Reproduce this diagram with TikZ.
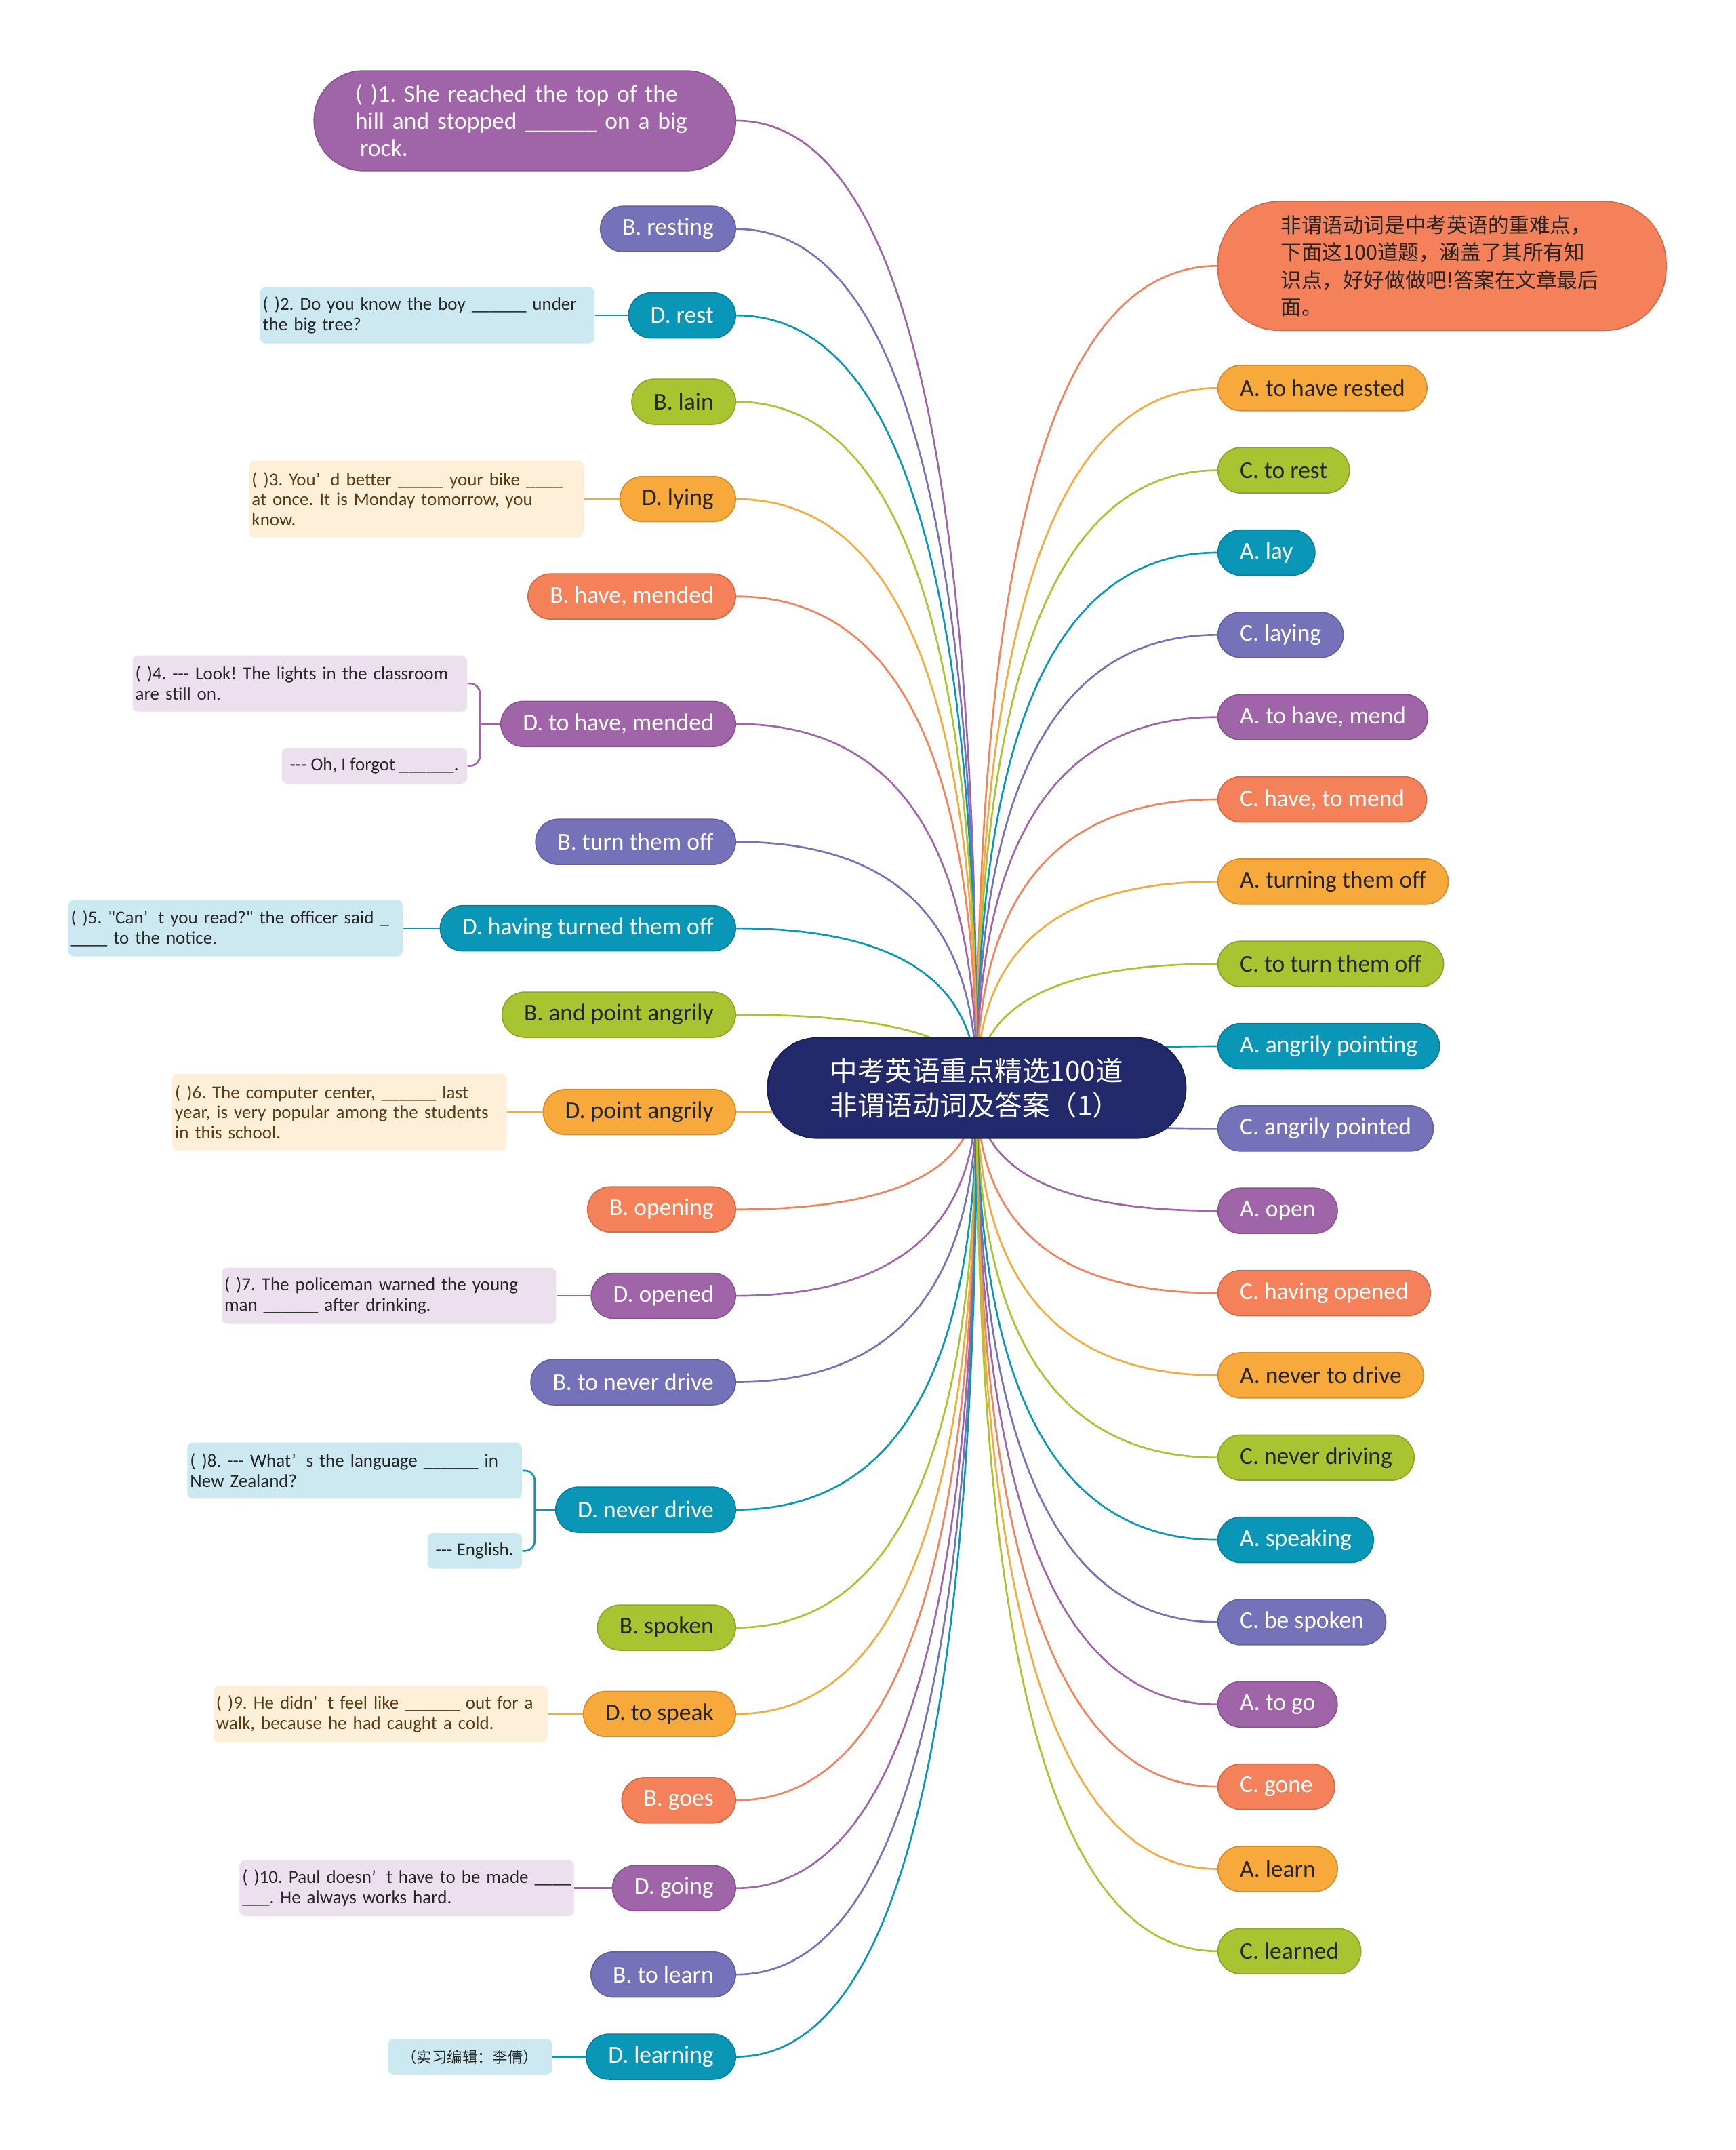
\documentclass[tikz,border=0pt]{standalone}
\usepackage{fontspec}
\setmainfont{Carlito}[Ligatures=TeXOff]
\newfontfamily\cjk{Noto Sans CJK SC}
\usetikzlibrary{calc}
\frenchspacing

\pgfdeclarelayer{paper}
\pgfdeclarelayer{lines}
\pgfsetlayers{paper,lines,main}

\definecolor{cPurple}{HTML}{A065A8}
\definecolor{cViolet}{HTML}{7572BA}
\definecolor{cTeal}{HTML}{0A97B7}
\definecolor{cGreen}{HTML}{A8C430}
\definecolor{cOrange}{HTML}{F8A93C}
\definecolor{cCoral}{HTML}{F5815A}
\definecolor{cNavy}{HTML}{222A6B}
\definecolor{cBlueBox}{HTML}{CCE9F2}
\definecolor{cPeachBox}{HTML}{FEF0D8}
\definecolor{cLilacBox}{HTML}{ECE0EE}
\definecolor{cInk}{HTML}{262626}
\definecolor{cBrown}{HTML}{5B3A12}

\newcommand{\ap}{’\hspace{0.55em}}
\newcommand{\dashes}{\mbox{-}\mbox{-}\mbox{-}}
\newcommand{\six}{\_\_\_\_\_\_}
% curved branch from the centre to one answer
\newcommand{\branch}[3]{%
  \draw[link,#3] (root.center) .. controls ($(root.center)!0.67!(root.center |- #1.#2)$)
    and ($(#1.#2)!0.67!(root.center |- #1.#2)$) .. (#1.#2);}

\begin{document}
\begin{tikzpicture}[x=0.02cm, y=-0.02cm,
  ans/.style={rectangle, rounded corners=0.33cm, minimum height=0.66cm,
    inner xsep=0.32cm, inner ysep=0pt, line width=0.5pt,
    font=\fontsize{10}{12}\selectfont},
  ansPurple/.style={ans, fill=cPurple, draw=cPurple!85!black, text=white},
  ansViolet/.style={ans, fill=cViolet, draw=cViolet!85!black, text=white},
  ansTeal/.style={ans, fill=cTeal, draw=cTeal!85!black, text=white},
  ansCoral/.style={ans, fill=cCoral, draw=cCoral!85!black, text=white},
  ansGreen/.style={ans, fill=cGreen, draw=cGreen!85!black, text=cInk},
  ansOrange/.style={ans, fill=cOrange, draw=cOrange!85!black, text=cInk},
  bigPurple/.style={ansPurple, rounded corners=0.72cm, minimum height=1.46cm,
    inner xsep=0.6cm, text width=4.95cm, align=left,
    font=\fontsize{10}{11.3}\selectfont},
  noteCoral/.style={rectangle, fill=cCoral, draw=cCoral!85!black, line width=0.5pt,
    rounded corners=0.9cm, minimum height=1.88cm, inner xsep=0.92cm,
    text width=4.7cm, align=left, text=cInk,
    font=\cjk\fontsize{8.6}{11.3}\selectfont},
  rootnode/.style={rectangle, fill=cNavy, draw=cNavy!80!black, line width=0.6pt,
    rounded corners=0.72cm, minimum width=6.1cm, minimum height=1.46cm,
    align=left, text=white, font=\cjk\fontsize{11.4}{14.2}\selectfont},
  qbox/.style={rectangle, rounded corners=0.08cm, inner xsep=0.12cm,
    inner ysep=0.05cm, minimum height=0.52cm, anchor=east,
    font=\fontsize{7.6}{8.4}\selectfont},
  qtext/.style={text width=4.8cm, inner xsep=0.04cm, align=left,
    minimum height=0.82cm},
  qtall/.style={qtext, minimum height=1.12cm},
  qBlue/.style={qbox, fill=cBlueBox, text=cInk},
  qPeach/.style={qbox, fill=cPeachBox, text=cBrown},
  qLilac/.style={qbox, fill=cLilacBox, text=cInk},
  link/.style={line width=0.75pt}]

\begin{pgfonlayer}{paper}
\fill[white] (0,0) rectangle (1266,1568);
\end{pgfonlayer}
\useasboundingbox (0,0) rectangle (1266,1568);

% centre
\node[rootnode] (root) at (712.5,793.5) {中考英语重点精选100道\\非谓语动词及答案（1）};

% left answers
\node[bigPurple, anchor=east] (l0) at (537,88) {( )1. She reached the top of the\\hill and stopped \six{} on a big\\\hspace*{2pt}rock.};
\node[ansViolet, anchor=east] (l1) at (537,167) {B. resting};
\node[ansTeal, anchor=east] (l2) at (537,230) {D. rest};
\node[ansGreen, anchor=east] (l3) at (537,293) {B. lain};
\node[ansOrange, anchor=east] (l4) at (537,364) {D. lying};
\node[ansCoral, anchor=east] (l5) at (537,435) {B. have, mended};
\node[ansPurple, anchor=east] (l6) at (537,528) {D. to have, mended};
\node[ansViolet, anchor=east] (l7) at (537,614) {B. turn them off};
\node[ansTeal, anchor=east] (l8) at (537,677) {D. having turned them off};
\node[ansGreen, anchor=east] (l9) at (537,740) {B. and point angrily};
\node[ansOrange, anchor=east] (l10) at (537,811) {D. point angrily};
\node[ansCoral, anchor=east] (l11) at (537,882) {B. opening};
\node[ansPurple, anchor=east] (l12) at (537,945) {D. opened};
\node[ansViolet, anchor=east] (l13) at (537,1008) {B. to never drive};
\node[ansTeal, anchor=east] (l14) at (537,1101) {D. never drive};
\node[ansGreen, anchor=east] (l15) at (537,1187) {B. spoken};
\node[ansOrange, anchor=east] (l16) at (537,1250) {D. to speak};
\node[ansCoral, anchor=east] (l17) at (537,1313) {B. goes};
\node[ansPurple, anchor=east] (l18) at (537,1377) {D. going};
\node[ansViolet, anchor=east] (l19) at (537,1440) {B. to learn};
\node[ansTeal, anchor=east] (l20) at (537,1500) {D. learning};

% question texts
\node[qBlue, qtext] (t2) at (434,230) {( )2. Do you know the boy \six{} under\\the big tree?};
\node[qPeach, qtall] (t3) at (426,364) {( )3. You\ap d better \_\_\_\_\_ your bike \_\_\_\_\\at once. It is Monday tomorrow, you\\know.};
\node[qLilac, qtext] (t4a) at (341,498.5) {( )4. \dashes{} Look! The lights in the classroom\\are still on.};
\node[qLilac] (t4b) at (341,558.5) {\dashes{} Oh, I forgot \six.};
\node[qBlue, qtext] (t5) at (294,677) {( )5. "Can\ap t you read?" the officer said \_\\\_\_\_\_ to the notice.};
\node[qPeach, qtall] (t6) at (370,811) {( )6. The computer center, \six{} last\\year, is very popular among the students\\in this school.};
\node[qLilac, qtext] (t7) at (406,945) {( )7. The policeman warned the young\\man \six{} after drinking.};
\node[qBlue, qtext] (t8a) at (381,1072.5) {( )8. \dashes{} What\ap s the language \six{} in\\New Zealand?};
\node[qBlue] (t8b) at (381,1131) {\dashes{} English.};
\node[qPeach, qtext] (t9) at (400,1250) {( )9. He didn\ap t feel like \six{} out for a\\walk, because he had caught a cold.};
\node[qLilac, qtext] (t10) at (419,1377) {( )10. Paul doesn\ap t have to be made \_\_\_\_\\\_\_\_. He always works hard.};
\node[qBlue, inner xsep=0.2cm, font=\cjk\fontsize{6.3}{7}\selectfont] (ed) at (403,1500) {（实习编辑：李倩）};
\coordinate (k4) at (350,528);
\coordinate (k8) at (390,1101);

% right answers
\node[noteCoral, anchor=west] (r0) at (888,194) {非谓语动词是中考英语的重难点，\\下面这100道题，涵盖了其所有知\\识点，好好做做吧!答案在文章最后\\面。};
\node[ansOrange, anchor=west] (r1) at (888,283) {A. to have rested};
\node[ansGreen, anchor=west] (r2) at (888,343) {C. to rest};
\node[ansTeal, anchor=west] (r3) at (888,403) {A. lay};
\node[ansViolet, anchor=west] (r4) at (888,463) {C. laying};
\node[ansPurple, anchor=west] (r5) at (888,523) {A. to have, mend};
\node[ansCoral, anchor=west] (r6) at (888,583) {C. have, to mend};
\node[ansOrange, anchor=west] (r7) at (888,643) {A. turning them off};
\node[ansGreen, anchor=west] (r8) at (888,703) {C. to turn them off};
\node[ansTeal, anchor=west] (r9) at (888,763) {A. angrily pointing};
\node[ansViolet, anchor=west] (r10) at (888,823) {C. angrily pointed};
\node[ansPurple, anchor=west] (r11) at (888,883) {A. open};
\node[ansCoral, anchor=west] (r12) at (888,943) {C. having opened};
\node[ansOrange, anchor=west] (r13) at (888,1003) {A. never to drive};
\node[ansGreen, anchor=west] (r14) at (888,1063) {C. never driving};
\node[ansTeal, anchor=west] (r15) at (888,1123) {A. speaking};
\node[ansViolet, anchor=west] (r16) at (888,1183) {C. be spoken};
\node[ansPurple, anchor=west] (r17) at (888,1243) {A. to go};
\node[ansCoral, anchor=west] (r18) at (888,1303) {C. gone};
\node[ansOrange, anchor=west] (r19) at (888,1363) {A. learn};
\node[ansGreen, anchor=west] (r20) at (888,1423) {C. learned};

\begin{pgfonlayer}{lines}
\branch{l0}{east}{cPurple}
\branch{l1}{east}{cViolet}
\branch{l2}{east}{cTeal}
\branch{l3}{east}{cGreen}
\branch{l4}{east}{cOrange}
\branch{l5}{east}{cCoral}
\branch{l6}{east}{cPurple}
\branch{l7}{east}{cViolet}
\branch{l8}{east}{cTeal}
\branch{l9}{east}{cGreen}
\branch{l10}{east}{cOrange}
\branch{l11}{east}{cCoral}
\branch{l12}{east}{cPurple}
\branch{l13}{east}{cViolet}
\branch{l14}{east}{cTeal}
\branch{l15}{east}{cGreen}
\branch{l16}{east}{cOrange}
\branch{l17}{east}{cCoral}
\branch{l18}{east}{cPurple}
\branch{l19}{east}{cViolet}
\branch{l20}{east}{cTeal}
\branch{r0}{west}{cCoral}
\branch{r1}{west}{cOrange}
\branch{r2}{west}{cGreen}
\branch{r3}{west}{cTeal}
\branch{r4}{west}{cViolet}
\branch{r5}{west}{cPurple}
\branch{r6}{west}{cCoral}
\branch{r7}{west}{cOrange}
\branch{r8}{west}{cGreen}
\branch{r9}{west}{cTeal}
\branch{r10}{west}{cViolet}
\branch{r11}{west}{cPurple}
\branch{r12}{west}{cCoral}
\branch{r13}{west}{cOrange}
\branch{r14}{west}{cGreen}
\branch{r15}{west}{cTeal}
\branch{r16}{west}{cViolet}
\branch{r17}{west}{cPurple}
\branch{r18}{west}{cCoral}
\branch{r19}{west}{cOrange}
\branch{r20}{west}{cGreen}
% answers to their questions
\draw[link,cTeal] (l2.west) -- (t2.east);
\draw[link,cOrange] (l4.west) -- (t3.east);
\draw[link,cPurple] (l6.west) -- (k4);
\draw[link,cPurple,rounded corners=0.14cm] (t4a.east) -| (k4) |- (t4b.east);
\draw[link,cTeal] (l8.west) -- (t5.east);
\draw[link,cOrange] (l10.west) -- (t6.east);
\draw[link,cPurple] (l12.west) -- (t7.east);
\draw[link,cTeal] (l14.west) -- (k8);
\draw[link,cTeal,rounded corners=0.14cm] (t8a.east) -| (k8) |- (t8b.east);
\draw[link,cOrange] (l16.west) -- (t9.east);
\draw[link,cPurple] (l18.west) -- (t10.east);
\draw[link,cTeal] (l20.west) -- (ed.east);
\end{pgfonlayer}
\end{tikzpicture}
\end{document}
